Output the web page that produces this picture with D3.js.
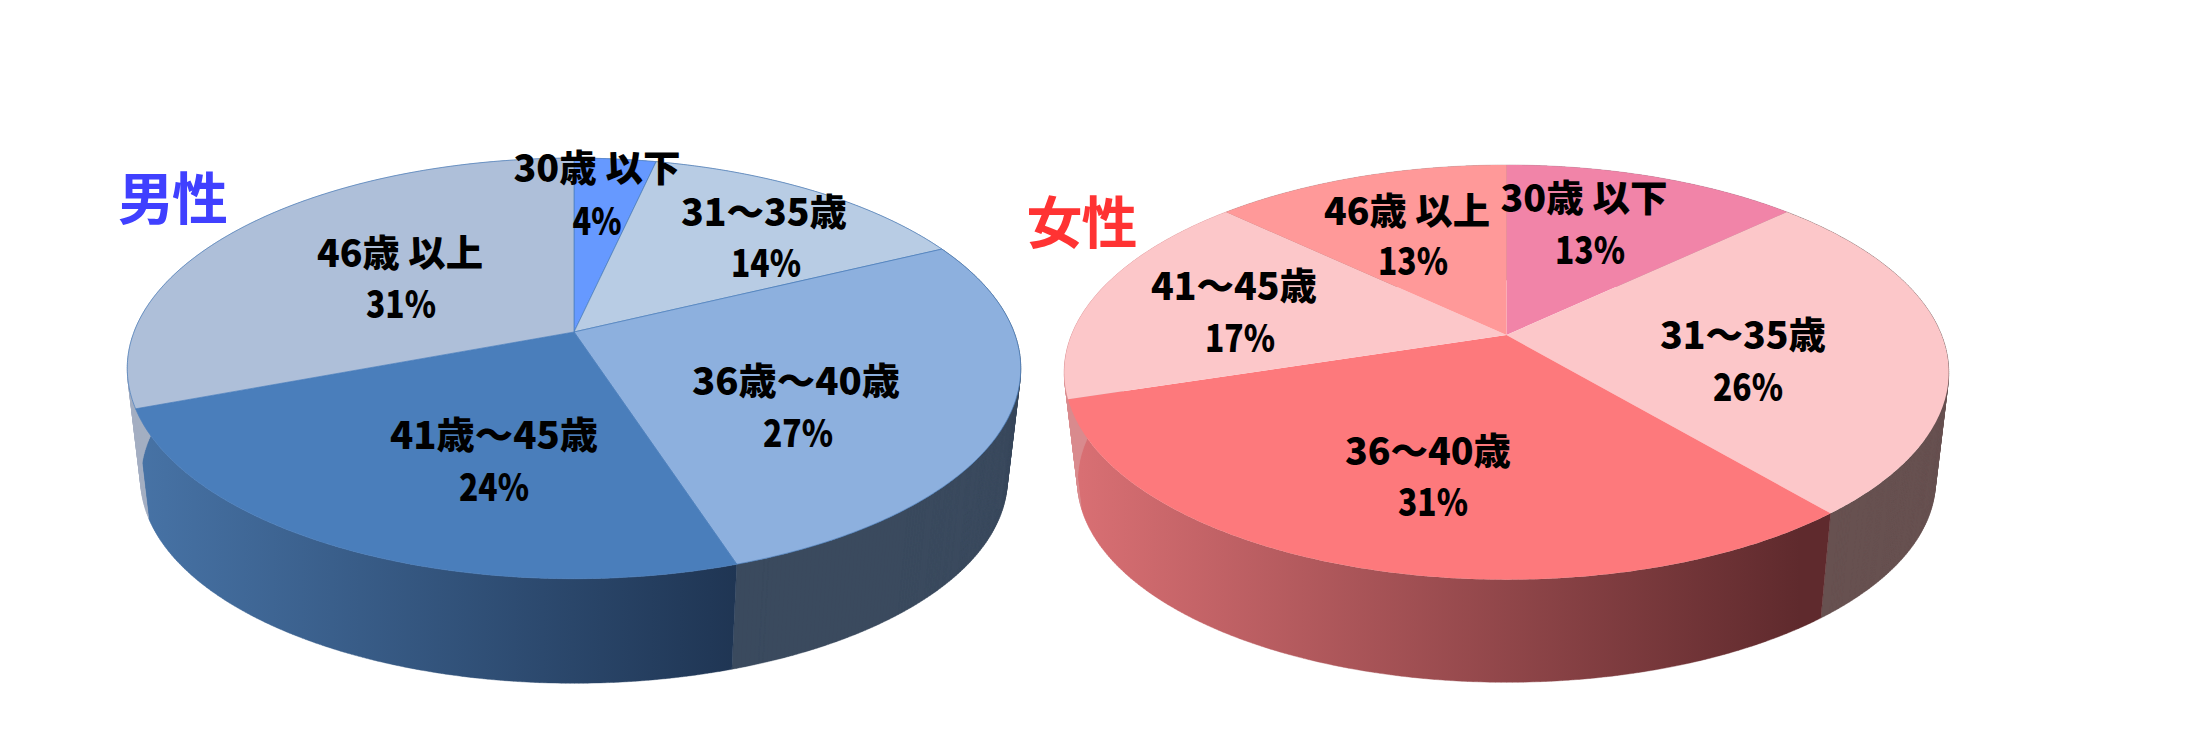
<!DOCTYPE html>
<html lang="ja"><head><meta charset="utf-8">
<script src="https://cdnjs.cloudflare.com/ajax/libs/d3/7.9.0/d3.min.js"></script>
<style>html,body{margin:0;padding:0;background:#fff;overflow:hidden}text{font-family:"Noto Sans CJK JP","Noto Sans",sans-serif}</style>
</head><body><svg id="c" width="2197" height="756"></svg>
<script>
const categoriesText = ["30歳 以下", "31～35歳", "36～40歳", "41～45歳", "46歳 以上"];
const maleCategories = ["30歳 以下", "31～35歳", "36歳～40歳", "41歳～45歳", "46歳 以上"];
const femaleCategories = categoriesText;
const maleValues = [3.5, 14.3, 27.2, 24.25, 30.75];
const femaleValues = [12.9, 26, 31.2, 17, 12.9];
const maleLabels = ["4%", "14%", "27%", "24%", "31%"];
const femaleLabels = ["13%", "26%", "31%", "17%", "13%"];
const titles = ["男性", "女性"];

const malePalette = ["#6699ff", "#b8cce4", "#8db0de", "#4a7ebb", "#aebfd9"];
const femalePalette = ["#f184a8", "#fcc7c9", "#fd797c", "#fcc7c9", "#ff9999"];
// each layout row: centre x, first-line baseline, second-line centre x, second-line baseline, first-line width, second-line width
const maleLayout = [[597,182,597,235,167,49],[764,226,766,277,166,70],[796,395,798,447,208,70],[494,449,494,501,208,70],[400,267,401,318,166,70]];
const femaleLayout = [[1584,212,1590,264,167,70],[1743,349,1748,401,166,70],[1428,465,1433,516,166,70],[1234,300,1240,352,166,70],[1407,225,1413,275,166,70]];

const svg = d3.select("#c");
const defs = svg.append("defs");
const pie = d3.pie().sort(null).value(d => d);

function drawPie(cfg) {
  // circle coordinates (u,v) in [-1,1] go through a perspective divide, then linear scales
  const x = d3.scaleLinear().domain([-1, 1]).range([cfg.cx - cfg.a, cfg.cx + cfg.a]);
  const y = d3.scaleLinear().domain([-1, 1]).range([cfg.cy - cfg.b, cfg.cy + cfg.b]);
  const proj = (t, r, level) => {
    const u = r * Math.sin(t), v = -r * Math.cos(t), w = 1 - cfg.k * v;
    const X = x(u / w) - cfg.cx, Y = y(v / w) - cfg.cy;
    return level
      ? [cfg.cx + X * cfg.s, cfg.cy + cfg.drop + Y * cfg.s]
      : [cfg.cx + X, cfg.cy + Y];
  };
  const arcs = pie(cfg.values);
  const samples = (a, n) => d3.range(n + 1).map(i => a.startAngle + (a.endAngle - a.startAngle) * i / n);
  const g = svg.append("g");
  // walls: a swept strip of small quads, all wound the same way, so the outline includes the side tangents
  arcs.forEach((a, i) => {
    const ts = samples(a, 180);
    const p = d3.path();
    for (let j = 0; j < ts.length - 1; j++) {
      let q = [proj(ts[j], 1, 0), proj(ts[j + 1], 1, 0), proj(ts[j + 1], 1, 1), proj(ts[j], 1, 1)];
      if (d3.polygonArea(q) < 0) q = q.reverse();
      p.moveTo(q[0][0], q[0][1]); q.slice(1).forEach(c => p.lineTo(c[0], c[1])); p.closePath();
    }
    let fill = cfg.wall[i];
    if (cfg.wallGrad[i]) {
      const id = cfg.id + "g" + i, gr = cfg.wallGrad[i];
      const lg = defs.append("linearGradient").attr("id", id).attr("gradientUnits", "userSpaceOnUse")
        .attr("x1", gr[0]).attr("x2", gr[1]).attr("y1", 0).attr("y2", 0);
      lg.append("stop").attr("offset", 0).attr("stop-color", gr[2]);
      lg.append("stop").attr("offset", 1).attr("stop-color", gr[3]);
      fill = `url(#${id})`;
    }
    g.append("path").attr("d", p.toString()).attr("fill", fill).attr("stroke", fill).attr("stroke-width", 0.4);
  });
  // top faces
  const line = d3.line().x(d => d[0]).y(d => d[1]);
  arcs.forEach((a, i) => {
    const pts = [proj(0, 0, 0)].concat(samples(a, 180).map(t => proj(t, 1, 0)));
    g.append("path").attr("d", line(pts) + "Z").attr("fill", cfg.palette[i])
      .attr("stroke", cfg.edge).attr("stroke-width", cfg.edgeW).attr("stroke-linejoin", "round");
  });
  // labels
  arcs.forEach((a, i) => {
    const L = cfg.layout[i];
    g.append("text").attr("x", L[0]).attr("y", L[1]).attr("text-anchor", "middle")
      .attr("font-size", 37).attr("font-weight", 900).attr("fill", "#000")
      .attr("textLength", L[4]).attr("lengthAdjust", "spacingAndGlyphs").text(cfg.cats[i]);
    g.append("text").attr("x", L[2]).attr("y", L[3]).attr("text-anchor", "middle")
      .attr("font-size", 37).attr("font-weight", 900).attr("fill", "#000")
      .attr("textLength", L[5]).attr("lengthAdjust", "spacingAndGlyphs").text(cfg.labels[i]);
  });
}

drawPie({id:"m", cx:574, cy:332, a:440, b:204, k:0.173, s:0.97, drop:112,
  values:maleValues, palette:malePalette, cats:maleCategories, labels:maleLabels, layout:maleLayout,
  wall:["#7f95c8","#8496ad","#3a4a5e","#4a7ebb","#a3afc2"],
  wallGrad:[null,null,null,[136,738,"#4773a6","#1f3553"],null],
  edge:"#4a7ebb", edgeW:0.7});
drawPie({id:"f", cx:1506.5, cy:335, a:435, b:200.6, k:0.18, s:0.97, drop:110,
  values:femaleValues, palette:femalePalette, cats:femaleCategories, labels:femaleLabels, layout:femaleLayout,
  wall:["#a86a80","#675150","#d06e70","#d98a8e","#b08080"],
  wallGrad:[null,null,[1070,1800,"#da7074","#5f2a2d"],null,null],
  edge:"none", edgeW:0});

svg.append("text").attr("x",173).attr("y",219).attr("text-anchor","middle").attr("font-size",56).attr("font-weight",700)
  .attr("fill","#4040ff").attr("textLength",110).text(titles[0]);
svg.append("text").attr("x",1082).attr("y",243).attr("text-anchor","middle").attr("font-size",56).attr("font-weight",700)
  .attr("fill","#ff3333").attr("textLength",111).text(titles[1]);
</script></body></html>
